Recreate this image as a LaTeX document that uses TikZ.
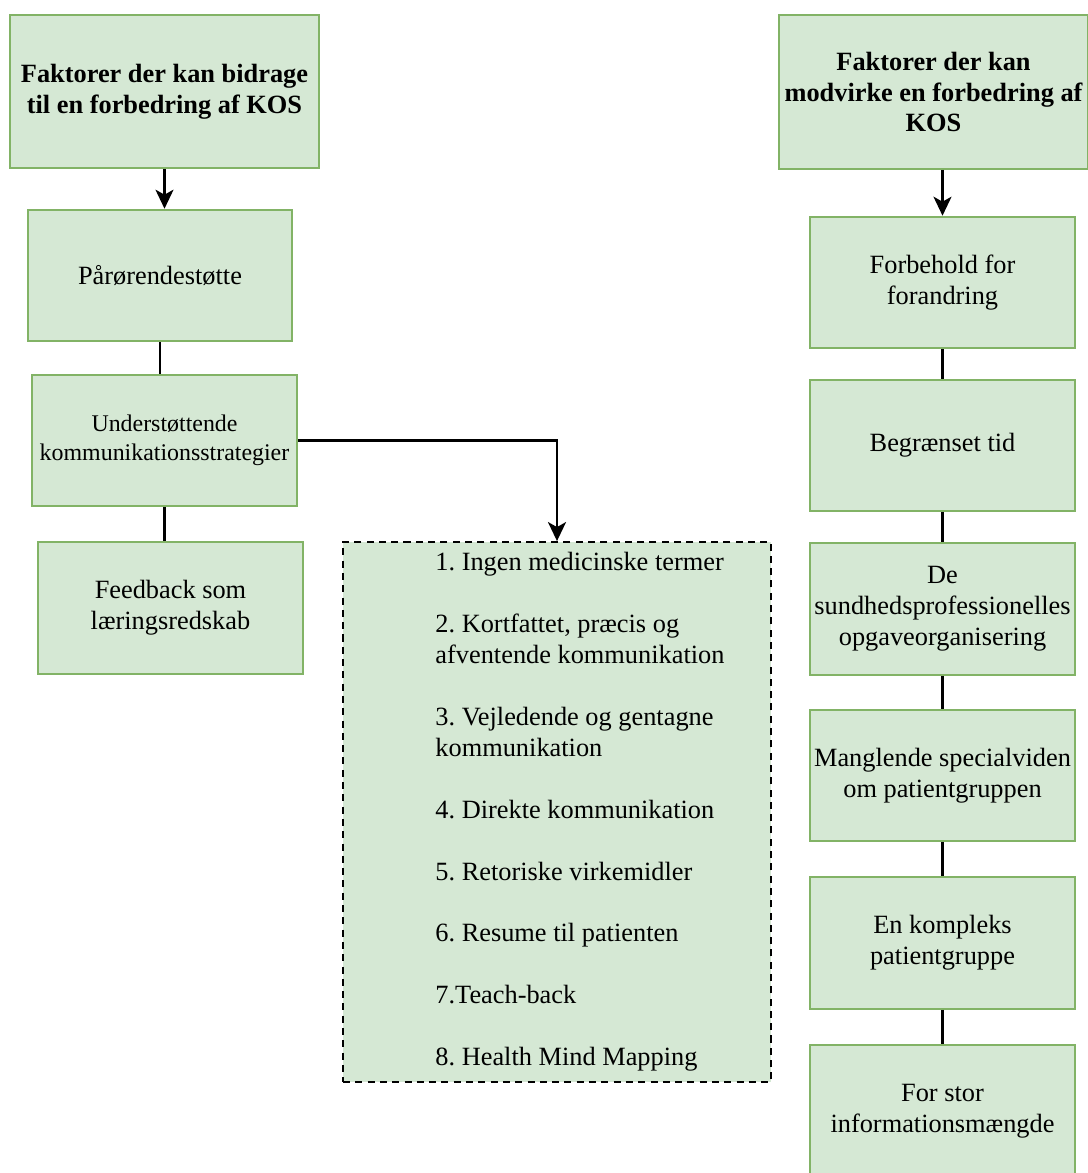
\documentclass[tikz,border=0pt]{standalone}
\usepackage{fontspec}
\setmainfont{Liberation Serif}
\usepackage{xcolor}
\usepackage{tikz}
\usetikzlibrary{calc,arrows.meta}

\definecolor{boxfill}{HTML}{D5E8D4}
\definecolor{boxline}{HTML}{82B366}
\frenchspacing

\begin{document}
\begin{tikzpicture}[x=0.02cm, y=-0.02cm,
    box/.style = {draw=boxline, fill=boxfill, line width=1.2pt, align=center,
                  font=\fontsize{15}{17.6}\selectfont, inner sep=0pt},
    head/.style = {box, minimum width=6.18cm, minimum height=3.07cm,
                   font=\fontsize{15}{17.6}\selectfont\bfseries},
    item/.style = {box, minimum width=5.3cm, minimum height=2.63cm},
    list/.style = {draw=black, dash pattern=on 4pt off 3pt, fill=boxfill, line width=1.1pt,
                   minimum width=8.56cm, minimum height=10.8cm, inner sep=0pt,
                   font=\fontsize{15}{17.6}\selectfont},
    link/.style = {line width=1.4pt},
    pil/.style  = {link, -{Stealth[length=0.38cm, width=0.36cm, inset=0.1cm]}}]
    \useasboundingbox (0,0) rectangle (1088,1173);

    \node[head] (L1) at (164.5,91.5) {Faktorer der kan bidrage\\til en forbedring af KOS};
    \node[item, minimum width=5.28cm] (L2) at (160,275.5) {Pårørendestøtte};
    \node[item, font=\fontsize{13.6}{16.6}\selectfont] (L3) at (164.5,440.5) {Understøttende\\kommunikationsstrategier};
    \node[item] (L4) at (170.5,608) {Feedback som\\læringsredskab};

    \node[list] (S) at (557,812) {\hspace*{0.92cm}\begin{tabular}{@{}l@{}}
        1. Ingen medicinske termer\\ \\
        2. Kortfattet, præcis og\\ afventende kommunikation\\ \\
        3. Vejledende og gentagne\\ kommunikation\\ \\
        4. Direkte kommunikation\\ \\
        5. Retoriske virkemidler\\ \\
        6. Resume til patienten\\ \\
        7.Teach-back\\ \\
        8. Health Mind Mapping
      \end{tabular}};

    \node[head] (R1) at (933.5,92) {Faktorer der kan\\modvirke en forbedring af\\KOS};
    \node[item] (R2) at (942.5,282.5) {Forbehold for\\forandring};
    \node[item] (R3) at (942.5,445.5) {Begrænset tid};
    \node[item] (R4) at (942.5,609) {De\\sundhedsprofessionelles\\opgaveorganisering};
    \node[item] (R5) at (942.5,775.5) {Manglende specialviden\\om patientgruppen};
    \node[item] (R6) at (942.5,943) {En kompleks\\patientgruppe};
    \node[item] (R7) at (942.5,1111) {For stor\\informationsmængde};

    \draw[pil] (L1.south) -- (L1.south |- L2.north);
    \draw[link] (L2.south) -- (L2.south |- L3.north);
    \draw[link] (L3.south) -- (L3.south |- L4.north);
    \draw[pil] (L3.east) -| (S.north);

    \draw[pil] (R1.south -| R2.north) -- (R2.north);
    \draw[link] (R2) -- (R3);
    \draw[link] (R3) -- (R4);
    \draw[link] (R4) -- (R5);
    \draw[link] (R5) -- (R6);
    \draw[link] (R6) -- (R7);
  \end{tikzpicture}
\end{document}
